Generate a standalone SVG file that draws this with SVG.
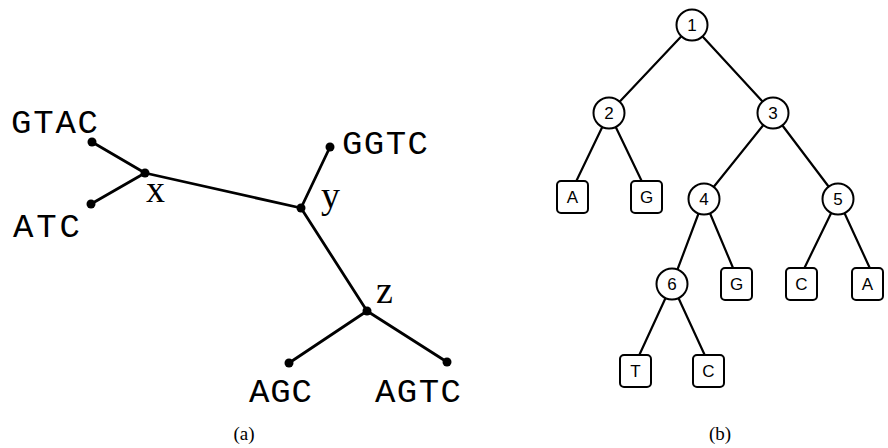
<svg xmlns="http://www.w3.org/2000/svg" width="888" height="448" viewBox="0 0 888 448">
  <style>
    .edge { stroke: #000; stroke-width: 2.2; fill: none; stroke-linecap: round; }
    .uedge { stroke: #000; stroke-width: 2.8; fill: none; stroke-linecap: round; }
    .dot { fill: #000; }
    .seq { font-family: "Liberation Mono", "DejaVu Sans Mono", monospace; font-size: 34px; fill: #000; }
    .lbl { font-family: "Liberation Serif", "DejaVu Serif", serif; font-size: 38px; fill: #000; }
    .cap { font-family: "Liberation Serif", "DejaVu Serif", serif; font-size: 19px; fill: #000; text-anchor: middle; }
    .inner circle { fill: #fff; stroke: #000; stroke-width: 2; }
    .leaf rect { fill: #fff; stroke: #000; stroke-width: 2; }
    .inner text, .leaf text { font-family: "Liberation Sans", Arial, sans-serif; font-size: 17px; text-anchor: middle; fill: #000; }
  </style>

  <!-- (a) unrooted tree with sequences at the leaves -->
  <g id="tree-a-edges">
    <line class="uedge" x1="92" y1="142" x2="145" y2="173"/>
    <line class="uedge" x1="91" y1="204" x2="145" y2="173"/>
    <line class="uedge" x1="145" y1="173" x2="301" y2="208"/>
    <line class="uedge" x1="301" y1="208" x2="330" y2="147"/>
    <line class="uedge" x1="301" y1="208" x2="367" y2="311"/>
    <line class="uedge" x1="367" y1="311" x2="289" y2="363"/>
    <line class="uedge" x1="367" y1="311" x2="447" y2="362"/>
  </g>
  <g id="leaf-gtac"><circle class="dot" cx="92" cy="142" r="4.5"/><text class="seq" x="11" y="133" textLength="87">GTAC</text></g>
  <g id="leaf-atc"><circle class="dot" cx="91" cy="204" r="4.5"/><text class="seq" x="13" y="237" textLength="67">ATC</text></g>
  <g id="node-x"><circle class="dot" cx="145" cy="173" r="4.5"/><text class="lbl" x="146" y="202">x</text></g>
  <g id="node-y"><circle class="dot" cx="301" cy="208" r="4.5"/><text class="lbl" x="321" y="208">y</text></g>
  <g id="leaf-ggtc"><circle class="dot" cx="330" cy="147" r="4.5"/><text class="seq" x="342" y="154" textLength="86">GGTC</text></g>
  <g id="node-z"><circle class="dot" cx="367" cy="311" r="4.5"/><text class="lbl" x="376" y="303">z</text></g>
  <g id="leaf-agc"><circle class="dot" cx="289" cy="363" r="4.5"/><text class="seq" x="249" y="402" textLength="63">AGC</text></g>
  <g id="leaf-agtc"><circle class="dot" cx="447" cy="362" r="4.5"/><text class="seq" x="375" y="402" textLength="86">AGTC</text></g>
  <text class="cap" x="244" y="440">(a)</text>

  <!-- (b) rooted binary tree -->
  <g id="tree-b-edges">
    <line class="edge" x1="692" y1="25" x2="609" y2="113"/>
    <line class="edge" x1="692" y1="25" x2="773" y2="113"/>
    <line class="edge" x1="609" y1="113" x2="572" y2="190"/>
    <line class="edge" x1="609" y1="113" x2="646" y2="190"/>
    <line class="edge" x1="773" y1="113" x2="704" y2="199"/>
    <line class="edge" x1="773" y1="113" x2="838" y2="199"/>
    <line class="edge" x1="704" y1="199" x2="672" y2="284"/>
    <line class="edge" x1="704" y1="199" x2="736" y2="275"/>
    <line class="edge" x1="838" y1="199" x2="801" y2="275"/>
    <line class="edge" x1="838" y1="199" x2="873" y2="275"/>
    <line class="edge" x1="672" y1="284" x2="637" y2="360"/>
    <line class="edge" x1="672" y1="284" x2="707" y2="360"/>
  </g>
  <g id="n1" class="inner"><circle cx="692" cy="25" r="15.5"/><text x="692" y="31">1</text></g>
  <g id="n2" class="inner"><circle cx="609" cy="113" r="15.5"/><text x="609" y="119">2</text></g>
  <g id="n3" class="inner"><circle cx="773" cy="113" r="15.5"/><text x="773" y="119">3</text></g>
  <g id="n4" class="inner"><circle cx="704" cy="199" r="15.5"/><text x="704" y="205">4</text></g>
  <g id="n5" class="inner"><circle cx="838" cy="199" r="15.5"/><text x="838" y="205">5</text></g>
  <g id="n6" class="inner"><circle cx="672" cy="284" r="15.5"/><text x="672" y="290">6</text></g>
  <g id="leaf-b-a1" class="leaf"><rect x="557" y="181" width="31" height="32" rx="4"/><text x="572.5" y="203">A</text></g>
  <g id="leaf-b-g1" class="leaf"><rect x="631" y="181" width="31" height="32" rx="4"/><text x="646.5" y="203">G</text></g>
  <g id="leaf-b-g2" class="leaf"><rect x="721" y="268" width="31" height="32" rx="4"/><text x="736.5" y="290">G</text></g>
  <g id="leaf-b-c1" class="leaf"><rect x="786" y="268" width="31" height="32" rx="4"/><text x="801.5" y="290">C</text></g>
  <g id="leaf-b-a2" class="leaf"><rect x="852" y="268" width="31" height="32" rx="4"/><text x="867.5" y="290">A</text></g>
  <g id="leaf-b-t" class="leaf"><rect x="620" y="355" width="31" height="32" rx="4"/><text x="635.5" y="377">T</text></g>
  <g id="leaf-b-c2" class="leaf"><rect x="693" y="355" width="31" height="32" rx="4"/><text x="708.5" y="377">C</text></g>
  <text class="cap" x="720" y="440">(b)</text>
</svg>
